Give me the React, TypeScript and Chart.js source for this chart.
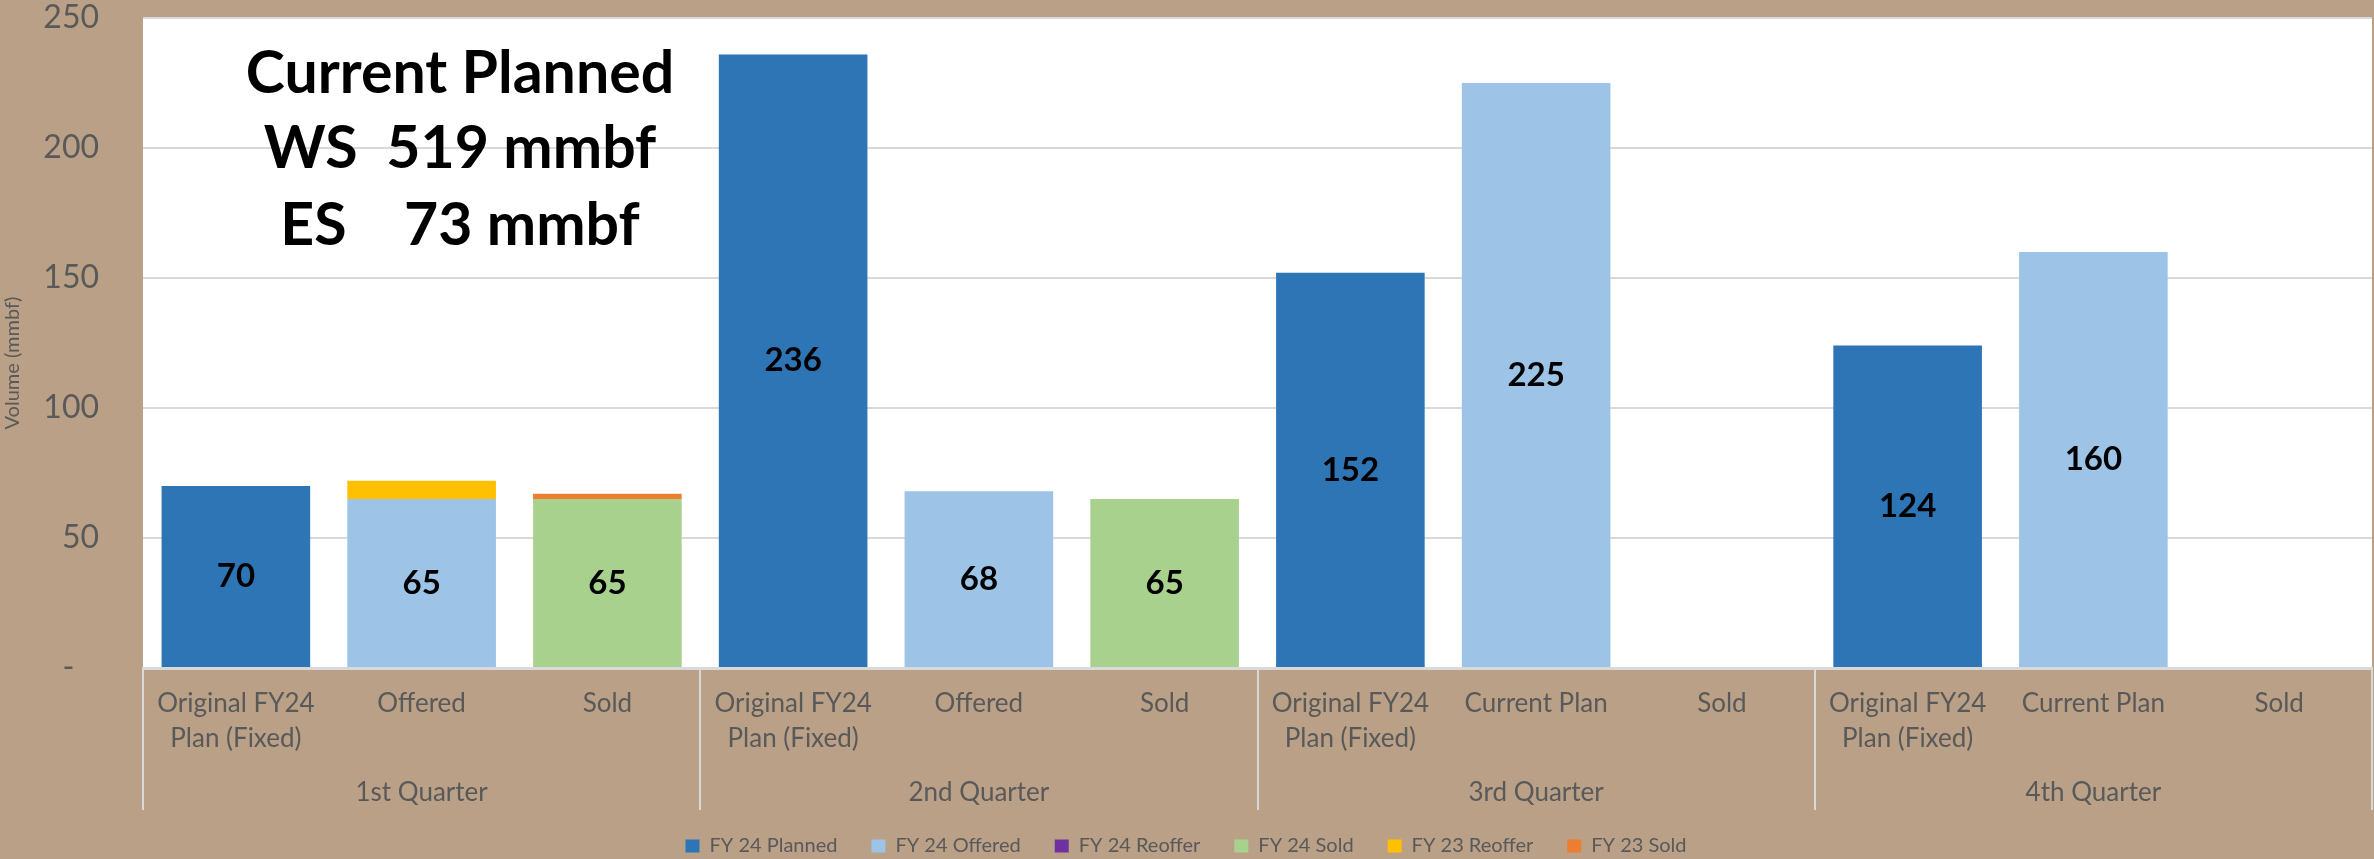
import React, { useEffect, useRef } from 'react';
import { Chart, registerables } from 'chart.js';

Chart.register(...registerables);

// ---------- data ----------
const categories: (string | string[])[] = [
  ['Original FY24', 'Plan (Fixed)'], 'Offered', 'Sold',
  ['Original FY24', 'Plan (Fixed)'], 'Offered', 'Sold',
  ['Original FY24', 'Plan (Fixed)'], 'Current Plan', 'Sold',
  ['Original FY24', 'Plan (Fixed)'], 'Current Plan', 'Sold',
];
const quarters = ['1st Quarter', '2nd Quarter', '3rd Quarter', '4th Quarter'];

const fy24Planned = [70, null, null, 236, null, null, 152, null, null, 124, null, null];
const fy24Offered = [null, 65, null, null, 68, null, null, 225, null, null, 160, null];
const fy24Reoffer = [null, null, null, null, null, null, null, null, null, null, null, null];
const fy24Sold = [null, null, 65, null, null, 65, null, null, null, null, null, null];
const fy23Reoffer = [null, 7, null, null, null, null, null, null, null, null, null, null];
const fy23Sold = [null, null, 2, null, null, null, null, null, null, null, null, null];

const yTicks = [0, 50, 100, 150, 200, 250];
const annotationLines = ['Current Planned', 'WS  519 mmbf', 'ES    73 mmbf'];
const yAxisTitle = 'Volume (mmbf)';

// ---------- styles ----------
const BG = '#B9A087';
const TEXT = '#595959';
const FONT = 'Lato';
const W = 2374;
const H = 859;

const bgPlugin = {
  id: 'bgPlugin',
  beforeDraw(chart: any) {
    const { ctx, chartArea } = chart;
    ctx.save();
    ctx.fillStyle = BG;
    ctx.fillRect(0, 0, chart.width, chart.height);
    ctx.fillStyle = '#FFFFFF';
    ctx.fillRect(chartArea.left, chartArea.top, chartArea.right - chartArea.left, chartArea.bottom - chartArea.top);
    ctx.restore();
  },
};

const labelsPlugin = {
  id: 'labelsPlugin',
  afterDatasetsDraw(chart: any) {
    const ctx = chart.ctx;
    ctx.save();
    ctx.font = `bold 33px ${FONT}`;
    ctx.fillStyle = '#000000';
    ctx.textAlign = 'center';
    ctx.textBaseline = 'middle';
    [0, 1, 3].forEach((di) => {
      const meta = chart.getDatasetMeta(di);
      meta.data.forEach((el: any, i: number) => {
        const v = chart.data.datasets[di].data[i];
        if (v == null || v === 0) return;
        const p = el.getProps(['x', 'y', 'base'], true);
        ctx.fillText(String(v), p.x, (p.y + p.base) / 2);
      });
    });
    ctx.restore();
  },
};

const decorPlugin = {
  id: 'decorPlugin',
  afterDraw(chart: any) {
    const { ctx, chartArea } = chart;
    const xs = chart.scales.x;
    const half = (xs.getPixelForValue(1) - xs.getPixelForValue(0)) / 2;
    ctx.save();
    // group separators
    ctx.strokeStyle = '#D9D9D9';
    ctx.lineWidth = 2;
    const bottom = chartArea.bottom;
    for (let q = 0; q <= quarters.length; q++) {
      const xp = q < quarters.length ? xs.getPixelForValue(q * 3) - half : xs.getPixelForValue(q * 3 - 1) + half;
      ctx.beginPath();
      ctx.moveTo(Math.round(xp), bottom);
      ctx.lineTo(Math.round(xp), bottom + 142);
      ctx.stroke();
    }
    // quarter labels
    ctx.fillStyle = TEXT;
    ctx.font = `26px ${FONT}`;
    ctx.textAlign = 'center';
    ctx.textBaseline = 'middle';
    quarters.forEach((q, i) => {
      const l = xs.getPixelForValue(i * 3) - half;
      const r = xs.getPixelForValue(i * 3 + 2) + half;
      ctx.fillText(q, (l + r) / 2, bottom + 125);
    });
    // y-axis title
    ctx.save();
    ctx.translate(13, 363);
    ctx.rotate(-Math.PI / 2);
    ctx.font = `20px ${FONT}`;
    ctx.fillText(yAxisTitle, 0, 0);
    ctx.restore();
    // annotation text box
    ctx.fillStyle = '#000000';
    ctx.font = `bold 59px ${FONT}`;
    const cx = chartArea.left + 317;
    const ys = [74, 149, 226];
    annotationLines.forEach((t, i) => {
      ctx.fillText(t, cx, ys[i]);
    });
    ctx.restore();
  },
};

export default function App() {
  const ref = useRef<HTMLCanvasElement | null>(null);

  useEffect(() => {
    document.body.style.margin = '0';
    document.body.style.background = BG;
    const canvas = ref.current;
    if (!canvas) return;
    const chart = new Chart(canvas, {
      type: 'bar',
      data: {
        labels: categories as any,
        datasets: [
          { label: 'FY 24 Planned', data: fy24Planned as any, backgroundColor: '#2E75B6' },
          { label: 'FY 24 Offered', data: fy24Offered as any, backgroundColor: '#9DC3E6' },
          { label: 'FY 24 Reoffer', data: fy24Reoffer as any, backgroundColor: '#7030A0' },
          { label: 'FY 24 Sold', data: fy24Sold as any, backgroundColor: '#A9D18E' },
          { label: 'FY 23 Reoffer', data: fy23Reoffer as any, backgroundColor: '#FFC000' },
          { label: 'FY 23 Sold', data: fy23Sold as any, backgroundColor: '#ED7D31' },
        ],
      },
      options: {
        responsive: false,
        animation: false,
        devicePixelRatio: 1,
        layout: { padding: { top: 18, right: 2, left: 0, bottom: -7 } },
        datasets: {
          bar: { barPercentage: 0.8, categoryPercentage: 1, borderWidth: 0 },
        },
        plugins: {
          legend: {
            position: 'bottom',
            labels: {
              boxWidth: 14,
              boxHeight: 13,
              padding: 34,
              color: TEXT,
              font: { family: FONT, size: 20 },
            },
          },
          tooltip: { enabled: false },
          title: { display: false },
        },
        scales: {
          x: {
            stacked: true,
            grid: { display: false, drawTicks: false },
            border: { display: true, color: '#D9D9D9', width: 3 },
            ticks: {
              color: TEXT,
              font: { family: FONT, size: 26, lineHeight: 35 / 26 },
              padding: 18,
              maxRotation: 0,
              minRotation: 0,
              autoSkip: false,
            },
            afterFit: (s: any) => {
              const lh = s.chart.legend ? s.chart.legend.height : 0;
              s.height = H + 7 - 668 - lh;
              s.paddingLeft = 0;
              s.paddingRight = 0;
            },
          },
          y: {
            stacked: true,
            min: 0,
            max: 250,
            grid: { color: '#D9D9D9', lineWidth: 2, drawTicks: false },
            border: { display: false },
            ticks: {
              color: TEXT,
              font: { family: FONT, size: 32 },
              padding: 44,
              callback: (v: any) => (v === 0 ? '-   ' : String(v)),
            },
            afterBuildTicks: (s: any) => {
              s.ticks = yTicks.map((v) => ({ value: v }));
            },
            afterFit: (s: any) => {
              s.width = 143;
              s.paddingTop = 0;
              s.paddingBottom = 0;
            },
          },
        },
      },
      plugins: [bgPlugin, labelsPlugin, decorPlugin],
    } as any);
    return () => chart.destroy();
  }, []);

  return (
    <div style={{ width: W, height: H, background: BG, overflow: 'hidden' }}>
      <canvas ref={ref} width={W} height={H} style={{ display: 'block', width: W, height: H }} />
    </div>
  );
}
